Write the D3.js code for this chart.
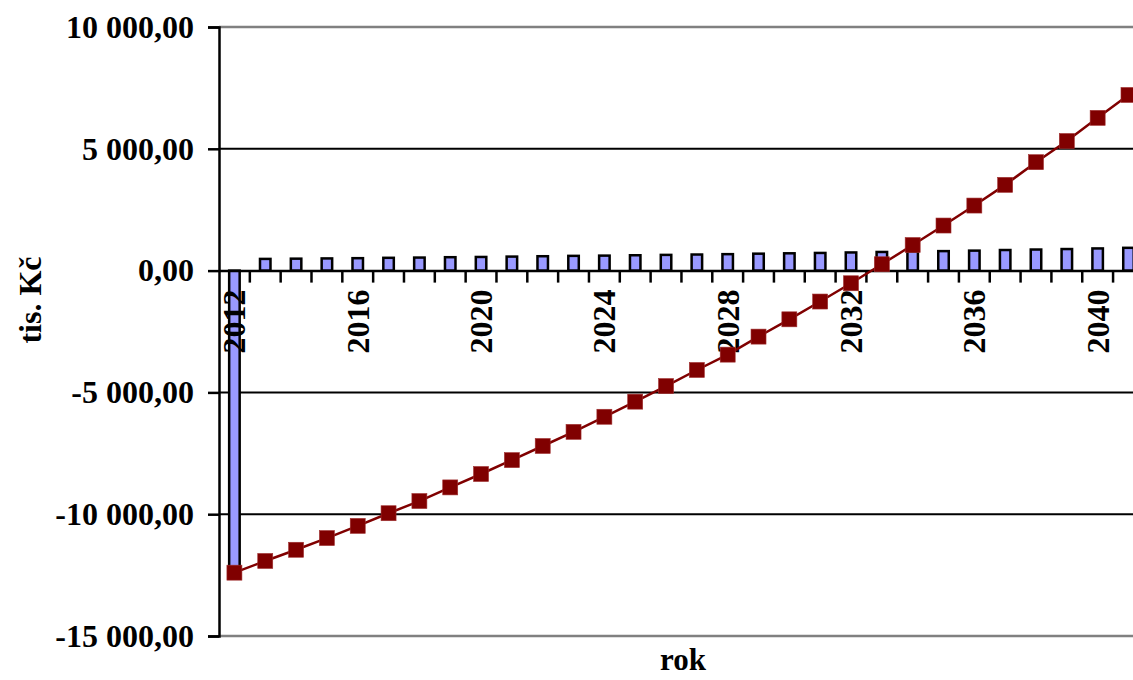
<!DOCTYPE html>
<html><head><meta charset="utf-8">
<script src="https://cdn.jsdelivr.net/npm/d3@7"></script>
<style>
html,body{margin:0;padding:0;background:#fff;}
svg{display:block;}
text{font-family:"Liberation Serif","Times New Roman",serif;font-weight:bold;fill:#000;}
</style></head>
<body>
<svg id="chart" width="1133" height="680"></svg>
<script>
const years = [2012,2013,2014,2015,2016,2017,2018,2019,2020,2021,2022,2023,2024,2025,2026,2027,2028,2029,2030,2031,2032,2033,2034,2035,2036,2037,2038,2039,2040,2041];
const cashFlow = [-12400,480,490,500,510,525,535,550,560,575,590,605,615,630,645,660,675,695,710,725,745,765,785,800,820,845,865,885,910,935];
const cumulative = [-12400,-11920,-11460,-10980,-10480,-9960,-9460,-8900,-8350,-7780,-7200,-6620,-6000,-5380,-4740,-4080,-3450,-2710,-2000,-1270,-520,260,1050,1850,2670,3520,4450,5320,6270,7210];
const yTicks = [-15000,-10000,-5000,0,5000,10000];
const xLabelYears = [2012,2016,2020,2024,2028,2032,2036,2040];
const yTitle = "tis. Kč";
const xTitle = "rok";

const svg = d3.select("#chart");
const pLeft = 219, pTop = 27, pBottom = 636, step = 30.83;
const x = d3.scaleBand().domain(years).range([pLeft, pLeft + years.length*step]).padding(0);
const y = d3.scaleLinear().domain([-15000,10000]).range([pBottom, pTop]);
const fmt = d3.formatLocale({decimal:",",thousands:" ",grouping:[3],currency:["",""],minus:"-"}).format(",.2f");
const pRight = 1140;
const FS = "32px";

// gridlines
svg.append("g").selectAll("line").data(yTicks.filter(d=>d!==0)).join("line")
  .attr("x1", pLeft).attr("x2", pRight)
  .attr("y1", d=>y(d)).attr("y2", d=>y(d))
  .attr("stroke", d => (d===10000||d===-15000) ? "#808080" : "#000")
  .attr("stroke-width", d => (d===10000||d===-15000) ? 2.5 : 2);

// bars
const bw = 10.5;
svg.append("g").selectAll("rect").data(years).join("rect")
  .attr("x", (d)=>x(d)+x.bandwidth()/2-bw/2)
  .attr("width", bw)
  .attr("y", (d,i)=>Math.min(y(cashFlow[i]), y(0)))
  .attr("height", (d,i)=>Math.abs(y(cashFlow[i])-y(0)))
  .attr("fill", "#9999FF").attr("stroke", "#000").attr("stroke-width", 2.5);

// y axis
const yAxis = d3.axisLeft(y).tickValues(yTicks).tickFormat(fmt).tickSize(11).tickPadding(14);
const gy = svg.append("g").attr("transform", `translate(${pLeft},0)`).call(yAxis);
gy.select(".domain").attr("stroke","#000").attr("stroke-width",2.5);
gy.selectAll(".tick line").attr("stroke","#000").attr("stroke-width",2.5);
gy.selectAll(".tick text").style("font-size",FS).style("font-family","'Liberation Serif',serif").style("font-weight","bold").attr("fill","#000");

// x axis at zero
const xAxis = d3.axisBottom(x).tickValues([]).tickSizeOuter(0);
const gx = svg.append("g").attr("transform", `translate(0,${y(0)})`).call(xAxis);
gx.select(".domain").attr("stroke","#000").attr("stroke-width",2.5);
svg.append("g").selectAll("line").data(years.slice(1)).join("line")
  .attr("x1", d=>x(d)).attr("x2", d=>x(d))
  .attr("y1", y(0)).attr("y2", y(0)+12)
  .attr("stroke","#000").attr("stroke-width",2.5);

// x labels
svg.append("g").selectAll("text").data(xLabelYears).join("text")
  .attr("transform", d=>`translate(${x(d)+x.bandwidth()/2},${y(0)+19}) rotate(-90)`)
  .attr("text-anchor","end").attr("dominant-baseline","central")
  .style("font-size",FS).text(d=>d);

// line
const line = d3.line().x((d,i)=>x(years[i])+x.bandwidth()/2).y(d=>y(d));
svg.append("path").datum(cumulative).attr("d", line)
  .attr("fill","none").attr("stroke","#800000").attr("stroke-width",2.5);
const ms = 15;
svg.append("g").selectAll("rect").data(cumulative).join("rect")
  .attr("x",(d,i)=>x(years[i])+x.bandwidth()/2-ms/2)
  .attr("y",d=>y(d)-ms/2)
  .attr("width",ms).attr("height",ms)
  .attr("fill","#800000").attr("stroke","#a03030").attr("stroke-width",0.6);

// titles
svg.append("text").attr("transform","translate(30,300) rotate(-90)")
  .attr("text-anchor","middle").attr("dominant-baseline","central")
  .style("font-size",FS).text(yTitle);
svg.append("text").attr("x",683).attr("y",670)
  .attr("text-anchor","middle").style("font-size","31px").text(xTitle);
</script>
</body></html>
